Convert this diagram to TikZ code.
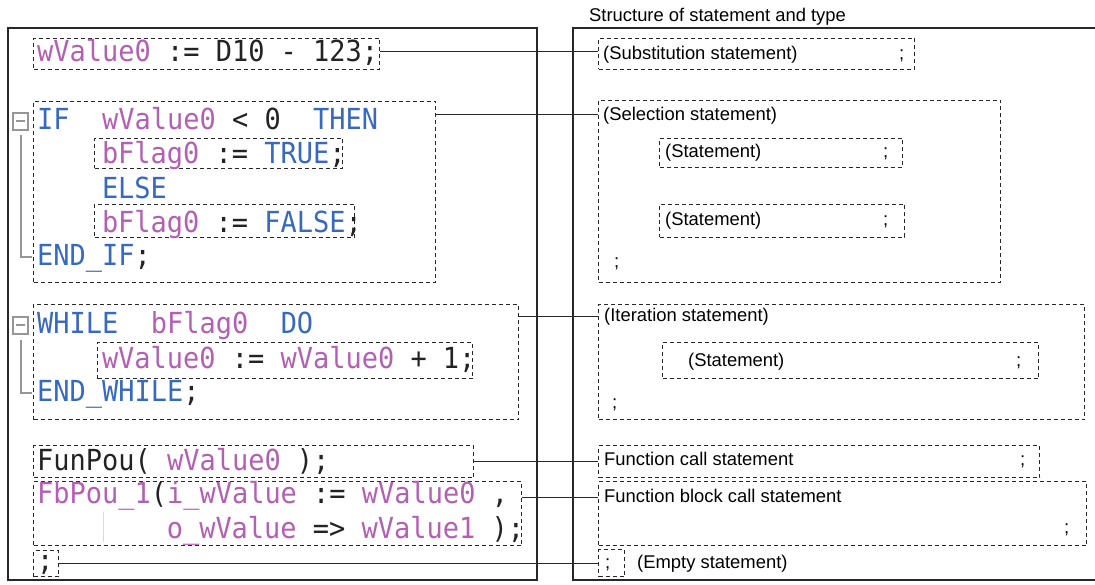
\documentclass[tikz,border=0pt]{standalone}
\usepackage{fontspec}
\setmainfont{Liberation Sans}
\newfontfamily\codefont[FakeStretch=0.93]{DejaVu Sans Mono}
\definecolor{pk}{RGB}{180,95,180}
\definecolor{bl}{RGB}{55,105,190}
\definecolor{dk}{RGB}{35,35,35}
\definecolor{frm}{RGB}{40,40,40}
\definecolor{mk}{RGB}{150,150,150}
\tikzset{
  dbox/.style={draw=frm, line width=1pt, dash pattern=on 4pt off 3pt, inner sep=0pt, anchor=north west},
  code/.style={anchor=base west, inner sep=0pt, font=\codefont\fontsize{29}{29}\selectfont, text=dk},
  lbl/.style={anchor=base west, inner sep=0pt, font=\fontsize{18.4}{20}\selectfont, text=black},
  conn/.style={draw=frm, line width=1pt},
  frame/.style={draw=frm, line width=2pt},
  marker/.style={draw=mk, line width=2pt}
}
\newcommand{\bx}[6][]{\node[dbox,#1, minimum width=#4pt-#2pt, minimum height=#5pt-#3pt] (#6) at (#2,#3) {};}
\begin{document}
\begin{tikzpicture}[x=1pt,y=-1pt]
\useasboundingbox (0,0) rectangle (1095,585);
% frames
\draw[frame] (8,28) rectangle (537,580);
\draw[frame] (1100,28) -- (573,28) -- (573,580) -- (1100,580);
\node[lbl] (title) at (589,21.7) {Structure of statement and type};
% left dashed boxes
\bx{33}{38}{379}{69}{subL}
\bx{33}{101}{435}{282}{ifL}
\bx{94}{138}{342}{168}{t1L}
\bx{94}{204}{354}{237}{t2L}
\bx{33}{304}{518}{419}{whL}
\bx{97}{342}{472}{378}{w1L}
\bx{33}{445}{473}{477}{fnL}
\bx{33}{481}{521}{545}{fbL}
\bx{33}{550}{58}{576}{emL}
% right dashed boxes
\bx{598}{38}{914}{69}{subR}
\bx{598}{100}{1000}{282}{selR}
\bx{659}{138}{902}{167}{s1R}
\bx{659}{204}{904}{237}{s2R}
\bx{598}{304}{1084}{419}{itR}
\bx{662}{342}{1038}{378}{i1R}
\bx{598}{445}{1039}{477}{fnR}
\bx{598}{481}{1086}{545}{fbR}
\bx{598}{549}{624}{576}{emR}
% markers
\draw[marker] (12.5,113) rectangle (28,130);
\draw[marker] (15.5,121.5) -- (25,121.5);
\draw[marker] (20.7,135) -- (20.7,257) -- (32,257);
\draw[marker] (12.5,317) rectangle (28,334);
\draw[marker] (15.5,325.5) -- (25,325.5);
\draw[draw=mk!35, line width=1pt] (103,512) -- (103,542);
\draw[marker] (20.7,340) -- (20.7,393) -- (32,393);
% code text
\node[code] (c1) at (37,61.7) {{\color{pk}wValue0}\ :=\ D10\ -\ 123;};
\node[code] (c2) at (37,130) {{\color{bl}IF}\ \ {\color{pk}wValue0}\ <\ 0\ \ {\color{bl}THEN}};
\node[code] (c3) at (101.8,163.3) {{\color{pk}bFlag0}\ :=\ {\color{bl}TRUE};};
\node[code] (c4) at (101.8,198.3) {{\color{bl}ELSE}};
\node[code] (c5) at (101.8,232.7) {{\color{pk}bFlag0}\ :=\ {\color{bl}FALSE};};
\node[code] (c6) at (37,266) {{\color{bl}END\_IF};};
\node[code] (c7) at (37,333.3) {{\color{bl}WHILE}\ \ {\color{pk}bFlag0}\ \ {\color{bl}DO}};
\node[code] (c8) at (101.8,368.3) {{\color{pk}wValue0}\ :=\ {\color{pk}wValue0}\ +\ 1;};
\node[code] (c9) at (37,401.7) {{\color{bl}END\_WHILE};};
\node[code] (c10) at (37,470) {FunPou(\ {\color{pk}wValue0}\ );};
\node[code] (c11) at (37,503.3) {{\color{pk}FbPou\_1}({\color{pk}i\_wValue}\ :=\ {\color{pk}wValue0}\ ,};
\node[code] (c12) at (166.6,538.3) {{\color{pk}o\_wValue}\ =>\ {\color{pk}wValue1}\ );};
\node[code] (c13) at (37,570) {;};
% right labels
\node[lbl] (r1) at (603,59.3) {(Substitution statement)};
\node[lbl] (r1s) at (899,59.3) {;};
\node[lbl] (r2) at (603,120.7) {(Selection statement)};
\node[lbl] (r3) at (665,158) {(Statement)};
\node[lbl] (r3s) at (883,158) {;};
\node[lbl] (r4) at (665,226) {(Statement)};
\node[lbl] (r4s) at (883,226) {;};
\node[lbl] (r5) at (614,268) {;};
\node[lbl] (r6) at (604,321.7) {(Iteration statement)};
\node[lbl] (r7) at (688,366.7) {(Statement)};
\node[lbl] (r7s) at (1016,366.7) {;};
\node[lbl] (r8) at (612,408) {;};
\node[lbl] (r9) at (604,465.7) {Function call statement};
\node[lbl] (r9s) at (1020,465.7) {;};
\node[lbl] (r10) at (604,502.3) {Function block call statement};
\node[lbl] (r10s) at (1064,533) {;};
\node[lbl] (r11) at (605,568) {;};
\node[lbl] (r12) at (637,568) {(Empty statement)};
% connectors
\path ([yshift=-14pt]subL.north east) coordinate (k1);
\draw[conn] (k1) -- (k1 -| subR.west);
\path ([yshift=-14pt]ifL.north east) coordinate (k2);
\draw[conn] (k2) -- (k2 -| selR.west);
\path ([yshift=-13pt]whL.north east) coordinate (k3);
\draw[conn] (k3) -- (k3 -| itR.west);
\path ([yshift=-16pt]fnL.north east) coordinate (k4);
\draw[conn] (k4) -- (k4 -| fnR.west);
\path ([yshift=-16pt]fbL.north east) coordinate (k5);
\draw[conn] (k5) -- (k5 -| fbR.west);
\path ([yshift=-13pt]emL.north east) coordinate (k6);
\draw[conn] (k6) -- (k6 -| emR.west);
\end{tikzpicture}
\end{document}
